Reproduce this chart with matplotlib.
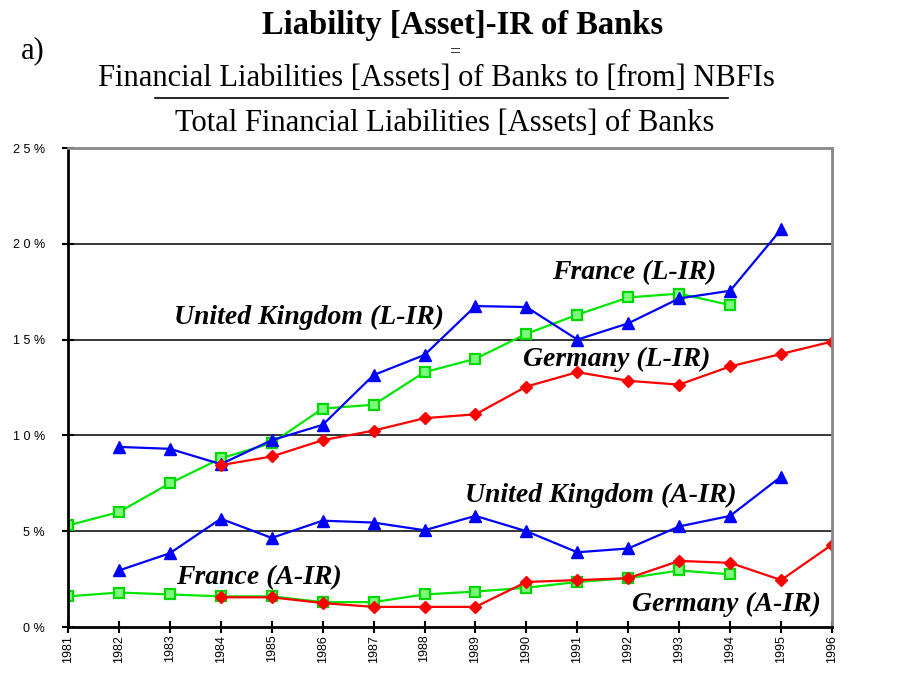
import matplotlib
matplotlib.use("Agg")
import matplotlib.pyplot as plt
from matplotlib.lines import Line2D

years = list(range(1981, 1997))

# liability ratios (L-IR), in percent
france_lir = [5.3, 6.0, 7.5, 8.8, 9.6, 11.4, 11.6, 13.3, 14.0, 15.3, 16.3, 17.2, 17.4, 16.8]
uk_lir = [9.4, 9.3, 8.5, 9.75, 10.55, 13.15, 14.2, 16.75, 16.7, 15.0, 15.85, 17.15, 17.55, 20.75]
germany_lir = [8.45, 8.9, 9.75, 10.25, 10.9, 11.1, 12.55, 13.3, 12.85, 12.65, 13.6, 14.25, 14.9]

# asset ratios (A-IR), in percent
france_air = [1.6, 1.8, 1.7, 1.6, 1.6, 1.3, 1.3, 1.7, 1.85, 2.05, 2.35, 2.55, 2.95, 2.75]
uk_air = [2.95, 3.85, 5.65, 4.65, 5.55, 5.45, 5.05, 5.8, 5.0, 3.9, 4.1, 5.25, 5.8, 7.85]
germany_air = [1.55, 1.55, 1.25, 1.05, 1.05, 1.05, 2.35, 2.45, 2.55, 3.45, 3.35, 2.45, 4.3]

france_years = years[0:14]
uk_years = years[1:15]
germany_years = years[3:16]

fig = plt.figure(figsize=(8.99, 6.78), dpi=100)
ax = fig.add_axes([0.0756, 0.0752, 0.8499, 0.7065])

green = dict(color="#00e600", lw=1.6, marker="s", ms=6.5, mec="#00d800", mfc="#7dff7d", mew=1.6)
blue = dict(color="#0000ff", lw=1.6, marker="^", ms=9, mec="#0000ff", mfc="#0000ff")
red = dict(color="#ff0000", lw=1.6, marker="D", ms=6, mec="#ff0000", mfc="#ff0000")

ax.plot(france_years, france_lir, **green)
ax.plot(uk_years, uk_lir, **blue)
ax.plot(germany_years, germany_lir, **red)
ax.plot(france_years, france_air, **green)
ax.plot(uk_years, uk_air, **blue)
ax.plot(germany_years, germany_air, **red)

ax.set_xlim(1981, 1996)
ax.set_ylim(0, 25)
ax.set_xticks(years)
ax.set_xticklabels([str(y) for y in years], rotation=90, fontsize=9,
                   family="Liberation Sans")
ax.set_yticks([0, 5, 10, 15, 20, 25])
ax.set_yticklabels(["0 %", "5 %", "1 0 %", "1 5 %", "2 0 %", "2 5 %"], fontsize=9,
                   family="Liberation Sans")
for g in [5, 10, 15, 20]:
    ax.axhline(g, color="black", lw=1.1, zorder=0)

ax.tick_params(axis="both", direction="inout", length=9, width=1.5)
ax.tick_params(axis="x", pad=1)
ax.tick_params(axis="y", pad=12)
ax.spines["left"].set_linewidth(2)
ax.spines["bottom"].set_linewidth(2)
ax.spines["top"].set_color("#888888")
ax.spines["right"].set_color("#888888")
ax.spines["top"].set_linewidth(2)
ax.spines["right"].set_linewidth(2)
for sp in ax.spines.values():
    sp.set_clip_on(False)

lab = dict(fontsize=20, fontweight="bold", style="italic", family="Liberation Serif",
           ha="center", va="center")
ax.text(1992.11, 18.48, "France (L-IR)", **lab)
ax.text(1985.73, 16.18, "United Kingdom (L-IR)", **lab)
ax.text(1991.78, 13.94, "Germany (L-IR)", **lab)
ax.text(1991.45, 6.89, "United Kingdom (A-IR)", **lab)
ax.text(1984.75, 2.56, "France (A-IR)", **lab)
ax.text(1993.92, 1.20, "Germany (A-IR)", **lab)

serif = "Liberation Serif"
fig.text(0.515, 0.963, "Liability [Asset]-IR of Banks", fontsize=23.5, fontweight="bold",
         family=serif, ha="center", va="center")
fig.text(0.036, 0.925, "a)", fontsize=22, family=serif, ha="center", va="center")
fig.text(0.506, 0.924, "=", fontsize=14, family=serif, ha="center", va="center")
fig.text(0.4855, 0.884, "Financial Liabilities [Assets] of Banks to [from] NBFIs", fontsize=22,
         family=serif, ha="center", va="center")
fig.add_artist(Line2D([0.172, 0.81], [0.855, 0.855], color="black", lw=1.2))
fig.text(0.495, 0.818, "Total Financial Liabilities [Assets] of Banks", fontsize=22,
         family=serif, ha="center", va="center")

fig.savefig("out.png", dpi=100)
